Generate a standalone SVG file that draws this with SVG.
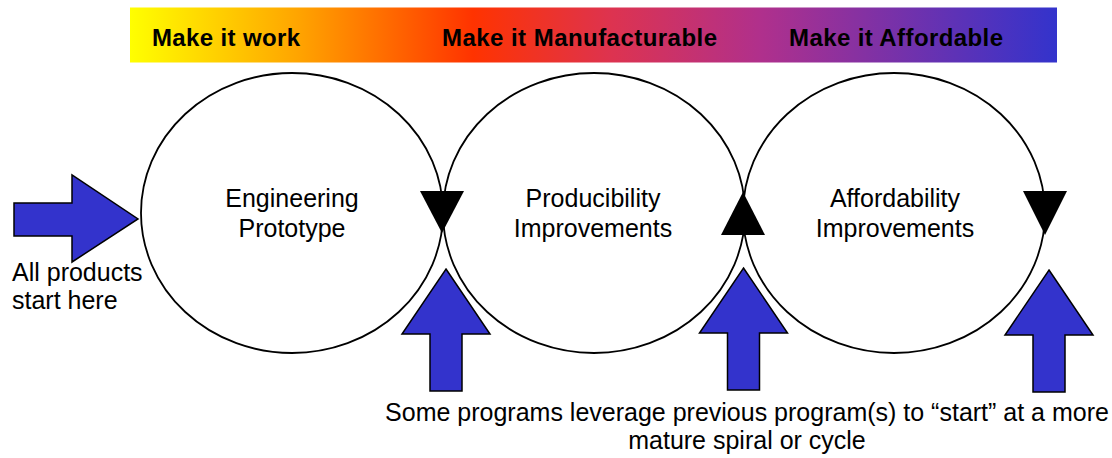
<svg xmlns="http://www.w3.org/2000/svg" width="1112" height="458" viewBox="0 0 1112 458">
  <defs>
    <linearGradient id="barGrad" x1="0" y1="0" x2="1" y2="0">
      <stop offset="0" stop-color="#FFFF00"/>
      <stop offset="0.18" stop-color="#FFA500"/>
      <stop offset="0.37" stop-color="#FF3300"/>
      <stop offset="0.52" stop-color="#DD3350"/>
      <stop offset="0.68" stop-color="#B0308C"/>
      <stop offset="1" stop-color="#3333CC"/>
    </linearGradient>
    <style>
      .phase { font-family: "Liberation Sans", Arial, sans-serif; font-weight: bold; font-size: 24px; fill: #000; }
      .label { font-family: "Liberation Sans", Arial, sans-serif; font-size: 25px; fill: #000; }
      .cycle { fill: none; stroke: #000; stroke-width: 1.8; }
      .blue { fill: #3333CC; stroke: #000; stroke-width: 1.5; stroke-linejoin: miter; }
      .tri { fill: #000; stroke: none; }
    </style>
  </defs>
  <rect width="1112" height="458" fill="#FFFFFF"/>

  <g id="phase-bar">
    <rect x="130" y="7.5" width="927" height="55" fill="url(#barGrad)"/>
    <text class="phase" x="152" y="45.5" textLength="148" lengthAdjust="spacing">Make it work</text>
    <text class="phase" x="442" y="45.5" textLength="275" lengthAdjust="spacing">Make it Manufacturable</text>
    <text class="phase" x="789" y="45.5" textLength="214" lengthAdjust="spacing">Make it Affordable</text>
  </g>

  <g id="node-engineering">
    <ellipse class="cycle" cx="292" cy="213" rx="151" ry="140"/>
    <text class="label" text-anchor="middle" x="292" y="207">Engineering</text>
    <text class="label" text-anchor="middle" x="292" y="237">Prototype</text>
  </g>

  <g id="node-producibility">
    <ellipse class="cycle" cx="594" cy="213" rx="151" ry="140"/>
    <text class="label" text-anchor="middle" x="593" y="207">Producibility</text>
    <text class="label" text-anchor="middle" x="593" y="237">Improvements</text>
  </g>

  <g id="node-affordability">
    <ellipse class="cycle" cx="894" cy="213" rx="151" ry="140"/>
    <text class="label" text-anchor="middle" x="895" y="207">Affordability</text>
    <text class="label" text-anchor="middle" x="895" y="237">Improvements</text>
  </g>

  <g id="connectors">
    <polygon class="tri" points="420,191 464,191 442,233"/>
    <polygon class="tri" points="743,192 721,235 765,235"/>
    <polygon class="tri" points="1023,191 1067,191 1045,235"/>
    <polygon class="blue" points="14,203 72,203 72,175 138,219 72,262 72,236 14,236"/>
    <polygon class="blue" points="446,269 490,334 462,334 462,391 430,391 430,334 402,334"/>
    <polygon class="blue" points="743.5,268 787.5,333 759.5,333 759.5,390 727.5,390 727.5,333 699.5,333"/>
    <polygon class="blue" points="1049,270 1093,335 1065,335 1065,392 1033,392 1033,335 1005,335"/>
  </g>

  <g id="start-label">
    <text class="label" x="12" y="281">All products</text>
    <text class="label" x="12" y="309">start here</text>
  </g>

  <g id="bottom-label">
    <text class="label" text-anchor="middle" x="747" y="421">Some programs leverage previous program(s) to “start” at a more</text>
    <text class="label" text-anchor="middle" x="747" y="449">mature spiral or cycle</text>
  </g>
</svg>
